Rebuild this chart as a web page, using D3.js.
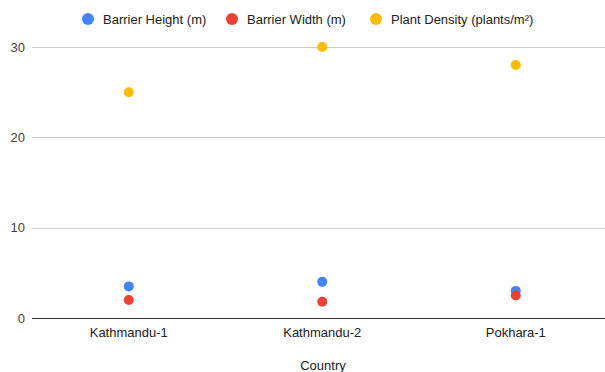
<!DOCTYPE html>
<html>
<head>
<meta charset="utf-8">
<script src="https://cdn.jsdelivr.net/npm/d3@7"></script>
<style>
  body { margin: 0; background: #fff; }
  svg { font-family: "Liberation Sans", Arial, sans-serif; }
</style>
</head>
<body>
<div id="chart"></div>
<script>
var width = 605, height = 372

var sites = ['Kathmandu-1', 'Kathmandu-2', 'Pokhara-1']
var seriesNames = ['Barrier Height (m)', 'Barrier Width (m)', 'Plant Density (plants/m²)']
var seriesColors = ['#4285f4', '#ea4335', '#fbbc04']
var barrierHeight = [3.5, 4, 3]
var barrierWidth = [2, 1.8, 2.5]
var plantDensity = [25, 30, 28]
var yTicks = [0, 10, 20, 30]

var allSeries = [barrierHeight, barrierWidth, plantDensity]

var svg = d3.select('#chart')
    .append('svg')
    .attr('width', width)
    .attr('height', height)

var x = d3.scaleBand()
    .domain(sites)
    .range([32, 612.5])

var y = d3.scaleLinear()
    .domain([0, 30])
    .range([318, 47])

// gridlines
svg.append('g')
    .selectAll('line')
    .data(yTicks)
    .enter()
    .append('line')
    .attr('x1', 32)
    .attr('x2', width)
    .attr('y1', function(d) { return Math.round(y(d)) + 0.5 })
    .attr('y2', function(d) { return Math.round(y(d)) + 0.5 })
    .attr('stroke', function(d) { return d === 0 ? '#333' : '#ccc' })
    .attr('stroke-width', 1)

svg.append('g')
    .selectAll('text')
    .data(yTicks)
    .enter()
    .append('text')
    .attr('x', 25)
    .attr('y', function(d) { return y(d) + 4.5 })
    .attr('text-anchor', 'end')
    .attr('font-size', 13)
    .attr('fill', '#444')
    .text(function(d) { return d })

// category labels
svg.append('g')
    .selectAll('text')
    .data(sites)
    .enter()
    .append('text')
    .attr('x', function(d) { return x(d) + x.bandwidth() / 2 })
    .attr('y', 337)
    .attr('text-anchor', 'middle')
    .attr('font-size', 13)
    .attr('fill', '#222')
    .text(function(d) { return d })

svg.append('text')
    .attr('x', 323)
    .attr('y', 370)
    .attr('text-anchor', 'middle')
    .attr('font-size', 13)
    .attr('fill', '#222')
    .text('Country')

// points
allSeries.forEach(function(values, i) {
    svg.append('g')
        .selectAll('circle')
        .data(values)
        .enter()
        .append('circle')
        .attr('cx', function(d, j) { return x(sites[j]) + x.bandwidth() / 2 })
        .attr('cy', function(d) { return y(d) })
        .attr('r', 5)
        .attr('fill', seriesColors[i])
})

// legend
var legendX = [88, 232, 376]
var legend = svg.append('g')
    .selectAll('g')
    .data(seriesNames)
    .enter()
    .append('g')
    .attr('transform', function(d, i) { return 'translate(' + legendX[i] + ',19)' })

legend.append('circle')
    .attr('r', 6)
    .attr('fill', function(d, i) { return seriesColors[i] })

legend.append('text')
    .attr('x', 15)
    .attr('y', 4.5)
    .attr('font-size', 13)
    .attr('fill', '#222')
    .text(function(d) { return d })
</script>
</body>
</html>
